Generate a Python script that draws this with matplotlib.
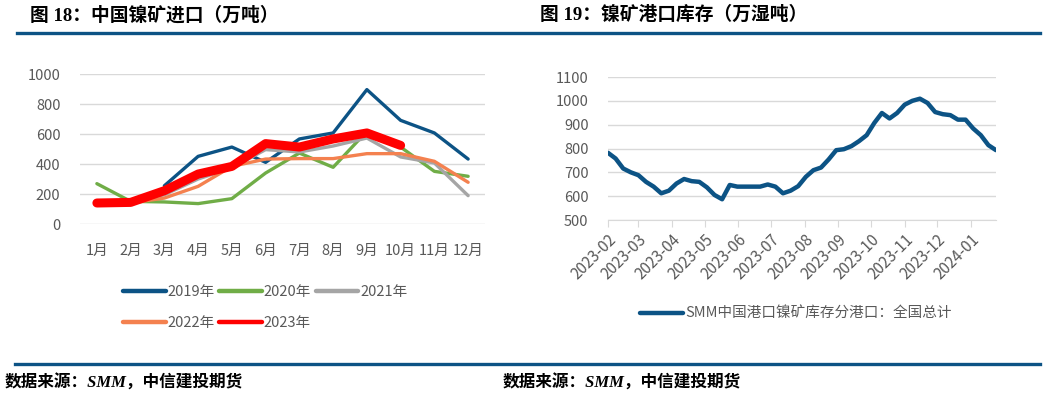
import matplotlib
matplotlib.use('Agg')
import matplotlib.pyplot as plt
import matplotlib.dates as mdates
from matplotlib.lines import Line2D
import numpy as np
import pandas as pd

plt.rcParams['font.family'] = ['Noto Sans CJK SC', 'DejaVu Sans']

# --- data: nickel ore imports (万吨) ---
months = ['1月', '2月', '3月', '4月', '5月', '6月', '7月', '8月', '9月', '10月', '11月', '12月']
y2019 = [np.nan, np.nan, 255, 451, 513, 411, 567, 607, 896, 691, 607, 433]
y2020 = [269, 151, 147, 136, 169, 340, 473, 378, 618, 513, 351, 318]
y2021 = [140, 150, 195, 300, 375, 496, 480, 520, 573, 447, 407, 189]
y2022 = [140, 140, 173, 251, 384, 433, 436, 436, 469, 469, 418, 278]
y2023 = [140, 144, 222, 333, 384, 536, 513, 567, 607, 524]

# --- data: port inventory (万湿吨), weekly ---
inv_start = '2023-02-03'
inventory = [782, 758, 716, 700, 688, 660, 640, 612, 623, 653,
             672, 663, 660, 637, 605, 587, 647, 640, 640, 640,
             640, 649, 640, 612, 623, 642, 681, 709, 720, 754,
             793, 797, 810, 831, 856, 907, 949, 926, 949, 984,
             1000, 1009, 991, 953, 944, 940, 921, 921, 884, 856,
             814, 793]
inv_dates = pd.date_range(inv_start, periods=len(inventory), freq='7D')

W, H = 1047, 397
fig = plt.figure(figsize=(W / 100, H / 100), dpi=100)

BLUE = "#0C5385"
GRID = "#D9D9D9"
TXT = "#595959"
TICK_FS = 10.5


def px_axes(x0, y0, x1, y1):
    # pixel box (top-left origin) -> axes
    return fig.add_axes([x0 / W, 1 - y1 / H, (x1 - x0) / W, (y1 - y0) / H])


def fig_line(x0, x1, y, lw=3):
    fig.add_artist(Line2D([x0 / W, x1 / W], [1 - y / H, 1 - y / H],
                          color=BLUE, lw=lw, transform=fig.transFigure))


# --- headers / footers ---
title_font = ['Liberation Serif', 'Noto Sans CJK SC']
fig.text(30 / W, 1 - 15 / H, '图 18：中国镍矿进口（万吨）', family=title_font,
         fontsize=13.5, fontweight='bold', va='center', ha='left')
fig.text(540 / W, 1 - 15 / H, '图 19：镍矿港口库存（万湿吨）', family=title_font,
         fontsize=13.5, fontweight='bold', va='center', ha='left')
fig_line(17, 1040, 33, lw=2.4)
fig_line(15, 1040, 364, lw=2.4)
for fx in (5, 503):
    fig.text(fx / W, 1 - 383 / H, '数据来源：SMM，中信建投期货', family=title_font,
             fontsize=12, fontweight='bold', style='italic', va='center', ha='left')

# --- left chart ---
ax = px_axes(80, 74, 485, 224)
x = np.arange(len(months))
series = [
    ('2019年', y2019, BLUE, 2.4),
    ('2020年', y2020, '#70AD47', 2.4),
    ('2021年', y2021, '#A5A5A5', 2.4),
    ('2022年', y2022, '#F4814F', 2.4),
    ('2023年', y2023, '#FF0000', 6.5),
]
handles = {}
for name, vals, col, lw in series:
    ax.plot(x[:len(vals)], vals, color=col, lw=lw, solid_capstyle='round',
            solid_joinstyle='round')
    handles[name] = Line2D([], [], color=col, lw=3.2, solid_capstyle='round')

ax.set_xlim(-0.5, 11.5)
ax.set_ylim(0, 1000)
ax.set_yticks(range(0, 1001, 200))
ax.set_xticks(x)
ax.set_xticklabels(months)
ax.grid(axis='y', color=GRID, lw=1)
ax.set_axisbelow(True)
for s in ax.spines.values():
    s.set_visible(False)
ax.tick_params(length=0, colors=TXT, labelsize=TICK_FS)
ax.tick_params(axis='x', pad=14)
ax.tick_params(axis='y', pad=14)

order = ['2019年', '2022年', '2020年', '2023年', '2021年']
fig.legend([handles[k] for k in order], order, ncol=3, frameon=False,
           loc='upper left', bbox_to_anchor=(116 / W, 1 - 278 / H),
           fontsize=10.5, handlelength=2.9, handletextpad=0.15,
           columnspacing=0.3, labelspacing=1.15, borderpad=0,
           labelcolor=TXT)

# --- right chart ---
ax2 = px_axes(608, 77, 996, 220)
ax2.plot(inv_dates, inventory, color=BLUE, lw=3.2, solid_joinstyle='round',
         solid_capstyle='round')
ax2.set_xlim(inv_dates[0], inv_dates[-1])
ax2.set_ylim(500, 1100)
ax2.set_yticks(range(500, 1101, 100))
ticks = pd.date_range('2023-02-01', '2024-01-01', freq='MS') + pd.Timedelta(days=2)
ax2.set_xticks(ticks)
ax2.xaxis.set_major_formatter(mdates.DateFormatter('%Y-%m'))
ax2.grid(axis='y', color=GRID, lw=1)
ax2.set_axisbelow(True)
for k in ('top', 'right', 'left'):
    ax2.spines[k].set_visible(False)
ax2.spines['bottom'].set_color(GRID)
ax2.tick_params(axis='y', length=0, colors=TXT, labelsize=TICK_FS, pad=14)
ax2.tick_params(axis='x', length=5, color=GRID, labelcolor=TXT,
                labelsize=TICK_FS + 0.5, pad=3)
for lab in ax2.get_xticklabels():
    lab.set_rotation(45)
    lab.set_ha('right')
    lab.set_rotation_mode('anchor')

fig.legend([Line2D([], [], color=BLUE, lw=3.2, solid_capstyle='round')],
           ['SMM中国港口镍矿库存分港口：全国总计'], frameon=False,
           loc='center left', bbox_to_anchor=(633 / W, 1 - 314 / H),
           fontsize=10.5, handlelength=2.9, handletextpad=0.15, borderpad=0,
           labelcolor=TXT)

fig.savefig('out.png', dpi=100)
